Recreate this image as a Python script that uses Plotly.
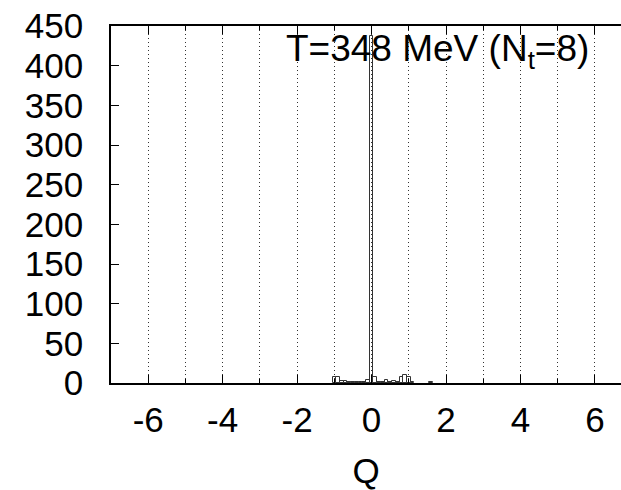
import plotly.graph_objects as go

# Histogram of topological charge Q (bin width 0.1)
q_bins = [-1.0, -0.9, -0.8, -0.7, -0.6, -0.5, -0.4, -0.3, -0.2, -0.1, 0.0,
          0.1, 0.2, 0.3, 0.4, 0.5, 0.6, 0.7, 0.8, 0.9, 1.0, 1.1, 1.6]
counts = [8, 7, 3, 2, 1, 1, 1, 1, 1, 4, 437,
          8, 1, 1, 4, 1, 3, 1, 7, 10, 7, 1, 1]
bin_width = 0.1

x_ticks = [-6, -4, -2, 0, 2, 4, 6]
y_ticks = [0, 50, 100, 150, 200, 250, 300, 350, 400, 450]
label = "T=348 MeV (N<sub>t</sub>=8)"

FONT = "Liberation Sans, Arial, Helvetica, sans-serif"

fig = go.Figure()
fig.add_trace(go.Bar(
    x=q_bins, y=counts, width=bin_width,
    marker=dict(color="rgba(0,0,0,0)", line=dict(color="#333333", width=1)),
    showlegend=False,
))

fig.update_layout(
    width=621, height=490,
    margin=dict(l=111, r=0, t=26, b=107),
    paper_bgcolor="white", plot_bgcolor="white",
    font=dict(family=FONT, size=35, color="black"),
    bargap=0,
    xaxis=dict(
        range=[-7, 6.70],
        tickvals=x_ticks, ticktext=[str(v) for v in x_ticks],
        ticks="inside", ticklen=8, tickcolor="black", tickwidth=1,
        showline=True, linecolor="black", linewidth=1.5, mirror="ticks",
        showgrid=True, gridcolor="#333333", gridwidth=1, griddash="1px,3px",
        minor=dict(dtick=1, tick0=0, showgrid=True, gridcolor="#333333",
                   gridwidth=1, griddash="1px,3px", ticks="inside", ticklen=4,
                   tickcolor="black"),
        zeroline=False,
        ticklabelstandoff=5,
        title=dict(text="Q", font=dict(size=35), standoff=23),
        tickfont=dict(size=35),
    ),
    yaxis=dict(
        range=[0, 450],
        tickvals=y_ticks, ticktext=[str(v) for v in y_ticks],
        ticks="inside", ticklen=8, tickcolor="black", tickwidth=1,
        showline=True, linecolor="black", linewidth=1.5, mirror=False,
        showgrid=False, zeroline=False,
        tickfont=dict(size=35),
        ticklabelstandoff=19,
    ),
)

fig.add_annotation(
    x=-2.36, y=1.0, xref="x", yref="paper",
    xanchor="left", yanchor="top",
    text=label, showarrow=False,
    font=dict(family=FONT, size=37, color="black"),
    bgcolor="rgba(0,0,0,0)",
)

fig.write_html("out.html")
